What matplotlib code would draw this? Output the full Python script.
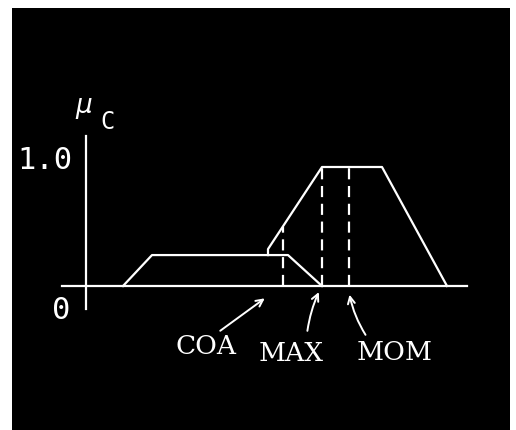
import matplotlib
matplotlib.use("Agg")
import matplotlib.pyplot as plt
from matplotlib.patches import Rectangle

# ---- data (x in arbitrary universe units, y = membership) ----
small_x = [3.6, 6.5, 20.1, 23.5]
small_y = [0.0, 0.26, 0.26, 0.0]
big_x = [18.1, 18.1, 23.5, 29.5, 36.0]
big_y = [0.26, 0.31, 1.0, 1.0, 0.0]

defuzz_names = ["COA", "MAX", "MOM"]
defuzz_x = [19.6, 23.5, 26.2]
defuzz_top = [0.50, 1.0, 1.0]

tick_labels = ["0", "1.0"]
tick_values = [0.0, 1.0]

# ---- figure ----
W, H, DPI = 516, 431, 100
fig = plt.figure(figsize=(W / DPI, H / DPI), dpi=DPI, facecolor="white")
ax = fig.add_axes([0, 0, 1, 1])
ax.set_facecolor("none")
ax.set_axis_off()
# black panel (axes spans whole figure)
ax.add_patch(Rectangle((12 / W, 0), (510 - 12) / W, 1 - 9 / H,
                       transform=ax.transAxes, facecolor="black",
                       edgecolor="none", zorder=0))
# mapping: px = 87 + 10*x ; py = 287 - 119*y
ax.set_xlim((0 - 87) / 10, (W - 87) / 10)
ax.set_ylim((287 - H) / 119, 287 / 119)

lw = 1.6
wc = "white"
# axes lines
ax.plot([-2.5, 38.0], [0, 0], color=wc, lw=lw)
ax.plot([-0.1, -0.1], [-0.19, 1.26], color=wc, lw=lw)

# membership functions
ax.plot(small_x, small_y, color=wc, lw=lw)
ax.plot(big_x, big_y, color=wc, lw=lw)

# dashed defuzzification lines
for xv, top in zip(defuzz_x, defuzz_top):
    ax.plot([xv, xv], [0, top], color=wc, lw=lw, linestyle=(0, (5, 3)))

# tick labels
ax.text(-4.2, tick_values[1] + 0.06, tick_labels[1], color=wc, fontsize=22,
        family="DejaVu Sans Mono", ha="center", va="center")
ax.text(-2.6, tick_values[0] - 0.20, tick_labels[0], color=wc, fontsize=22,
        family="DejaVu Sans Mono", ha="center", va="center")

# axis label mu_C
ax.text(-0.3, 1.52, "μ", color=wc, fontsize=19, style="italic",
        family="DejaVu Sans", ha="center", va="center")
ax.text(2.0, 1.39, "C", color=wc, fontsize=17,
        family="DejaVu Sans Mono", ha="center", va="center")

# labels with arrows
label_pos = [(11.9, -0.50), (20.4, -0.56), (30.8, -0.55)]
tails = [(13.1, -0.39), (22.0, -0.40), (28.0, -0.43)]
heads = [(18.0, -0.09), (23.3, -0.03), (26.2, -0.05)]
rads = [0.0, -0.08, -0.1]
for name, (lx, ly), t, h, r in zip(defuzz_names, label_pos, tails, heads, rads):
    ax.text(lx, ly, name, color=wc, fontsize=19, family="DejaVu Serif",
            ha="center", va="center")
    ax.annotate("", xy=h, xytext=t,
                arrowprops=dict(arrowstyle="->,head_length=0.5,head_width=0.25",
                                color=wc, lw=1.4,
                                connectionstyle=f"arc3,rad={r}"))

fig.savefig("out.png", dpi=DPI, facecolor="white")
